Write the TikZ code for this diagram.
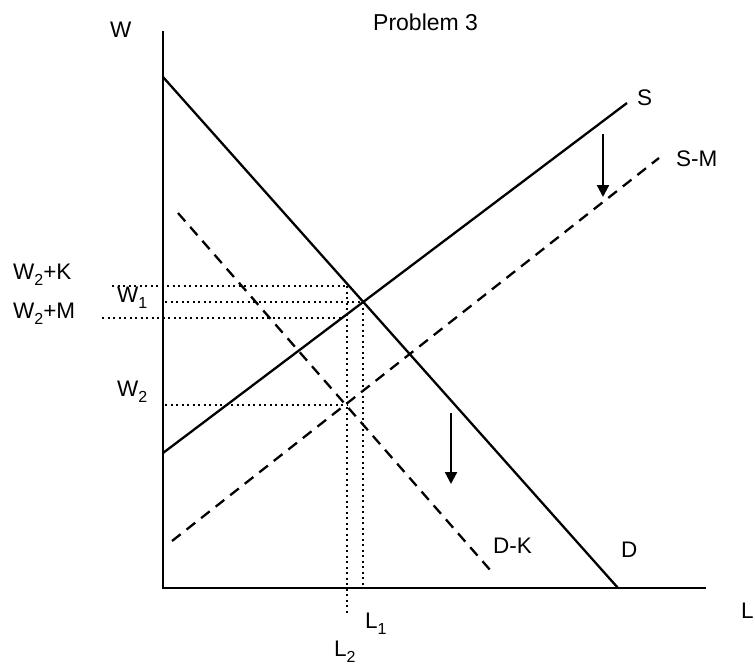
\documentclass[tikz,border=0pt]{standalone}
\usepackage{fontspec}
\setmainfont{Liberation Sans}
\usetikzlibrary{arrows.meta}
\newcommand\sbt[1]{\raisebox{-6pt}{\fontsize{16}{16}\selectfont #1}}
\tikzset{
  lbl/.style={anchor=base west, inner sep=0pt, font=\fontsize{22.5}{26}\selectfont},
  axisline/.style={line width=2.8pt},
  curve/.style={line width=2.3pt},
  dashcurve/.style={line width=2.3pt, dash pattern=on 11pt off 7.5pt},
  dotline/.style={line width=2pt, dash pattern=on 2pt off 3.5pt},
  shiftarrow/.style={line width=2.3pt, -{Triangle[length=12pt,width=12pt]}}
}
\begin{document}
\begin{tikzpicture}[x=1pt,y=-1pt]
\useasboundingbox (0,0) rectangle (755,666);
% axes
\coordinate (O) at (163,588);
\coordinate (Ytop) at (163,31);
\coordinate (Xend) at (706,588);
\draw[axisline] (Ytop) -- (O) -- (Xend);
% curves
\coordinate (D1) at (163,77);
\coordinate (D2) at (618,588);
\coordinate (S1) at (163,453);
\coordinate (S2) at (627,103);
\coordinate (DK1) at (178,213);
\coordinate (DK2) at (491,571);
\coordinate (SM1) at (172,541);
\coordinate (SM2) at (659,158);
\draw[curve] (D1) -- (D2);
\draw[curve] (S1) -- (S2);
\draw[dashcurve] (DK1) -- (DK2);
\draw[dashcurve] (SM1) -- (SM2);
% dotted guides
\coordinate (k0) at (112,286);
\coordinate (k1) at (348,286);
\coordinate (a0) at (165,302);
\coordinate (a1) at (363,302);
\coordinate (m0) at (102,318);
\coordinate (m1) at (343,318);
\coordinate (b0) at (165,405);
\coordinate (b1) at (347,405);
\coordinate (l2top) at (347,286);
\coordinate (l2bot) at (347,615);
\coordinate (l1top) at (363,302);
\coordinate (l1bot) at (363,588);
\draw[dotline] (k0) -- (k1);
\draw[dotline] (a0) -- (a1);
\draw[dotline] (m0) -- (m1);
\draw[dotline] (b0) -- (b1);
\draw[dotline] (l2top) -- (l2bot);
\draw[dotline] (l1top) -- (l1bot);
% shift arrows
\coordinate (ar1a) at (603,134);
\coordinate (ar1b) at (603,197);
\coordinate (ar2a) at (451,413);
\coordinate (ar2b) at (451,484);
\draw[shiftarrow] (ar1a) -- (ar1b);
\draw[shiftarrow] (ar2a) -- (ar2b);
% labels
\node[lbl, font=\fontsize{23}{27}\selectfont] (title) at (373,31) {Problem 3};
\node[lbl] (Wlab) at (110,38) {W};
\node[lbl] (W2K) at (13,279) {W\sbt{2}+K};
\node[lbl] (W1) at (117,302) {W\sbt{1}};
\node[lbl] (W2M) at (13,318) {W\sbt{2}+M};
\node[lbl] (W2) at (117,396) {W\sbt{2}};
\node[lbl] (L1) at (365,628) {L\sbt{1}};
\node[lbl] (L2) at (334,656) {L\sbt{2}};
\node[lbl] (Llab) at (741,618) {L};
\node[lbl] (Slab) at (637,106) {S};
\node[lbl] (SMlab) at (676,166) {S-M};
\node[lbl] (DKlab) at (493,553) {D-K};
\node[lbl] (Dlab) at (621,557) {D};
\end{tikzpicture}
\end{document}
